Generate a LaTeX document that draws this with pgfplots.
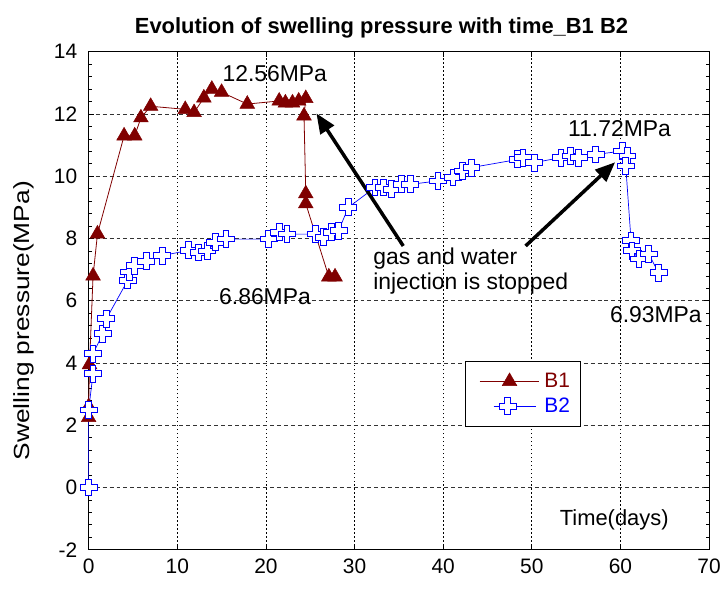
\documentclass[border=0pt]{standalone}
\usepackage{fontspec}
\setmainfont{Liberation Sans}
\usepackage{graphicx}
\usepackage{pgfplots}
\pgfplotsset{compat=1.18}
\usetikzlibrary{arrows.meta}

\definecolor{bone}{RGB}{128,0,0}
\definecolor{btwo}{RGB}{0,0,255}

\pgfplotsset{
  legA/.style={legend image code/.code={\path[draw=none,fill=none] (-14pt,-12.5pt) (65pt,12.5pt);
    \draw[mark repeat=2,mark phase=2,##1] plot coordinates {(0pt,0pt)(30pt,0pt)(60pt,0pt)};}},
  legB/.style={legend image code/.code={\path[draw=none,fill=none] (-14pt,-12.5pt) (65pt,12.5pt);
    \draw[mark repeat=2,mark phase=2,##1] plot coordinates {(14pt,0pt)(28pt,0pt)(57pt,0pt)};}},
}

\pgfdeclareplotmark{pluso}{%
  \pgfmathsetlengthmacro\ps{\pgfplotmarksize}%
  \pgfmathsetlengthmacro\pa{\pgfplotmarksize/3}%
  \pgfpathmoveto{\pgfqpoint{-\pa}{\ps}}%
  \pgfpathlineto{\pgfqpoint{\pa}{\ps}}%
  \pgfpathlineto{\pgfqpoint{\pa}{\pa}}%
  \pgfpathlineto{\pgfqpoint{\ps}{\pa}}%
  \pgfpathlineto{\pgfqpoint{\ps}{-\pa}}%
  \pgfpathlineto{\pgfqpoint{\pa}{-\pa}}%
  \pgfpathlineto{\pgfqpoint{\pa}{-\ps}}%
  \pgfpathlineto{\pgfqpoint{-\pa}{-\ps}}%
  \pgfpathlineto{\pgfqpoint{-\pa}{-\pa}}%
  \pgfpathlineto{\pgfqpoint{-\ps}{-\pa}}%
  \pgfpathlineto{\pgfqpoint{-\ps}{\pa}}%
  \pgfpathlineto{\pgfqpoint{-\pa}{\pa}}%
  \pgfpathclose
  \pgfusepathqfillstroke
}

\pgfplotstableread{
x y
0 2.25
0 2.6
0.1 3.95
0.5 6.8
1.0 8.15
4.0 11.3
5.2 11.3
5.9 11.88
7.0 12.25
10.9 12.15
11.9 12.05
13.0 12.52
13.9 12.8
15.0 12.7
17.9 12.32
21.5 12.42
22.2 12.36
23.0 12.36
23.7 12.42
24.5 12.5
24.3 11.94
24.5 9.44
24.5 9.12
27.1 6.77
27.8 6.77
}\datab

\pgfplotstableread{
x y
0 0
0 2.49
0.5 3.66
0.5 4.3
1.6 4.94
2.0 5.42
4.4 6.65
4.6 6.92
5.2 7.13
6.5 7.27
8.3 7.45
11.3 7.62
12.4 7.55
13.4 7.6
14.3 7.88
15.5 7.98
20.3 7.98
21.5 8.2
22.4 8.14
25.6 8.14
26.5 8.04
27.4 8.2
28.2 8.25
29.3 9.0
32.3 9.64
33.3 9.64
34.2 9.58
35.3 9.74
36.3 9.74
39.4 9.85
41.1 9.96
42.2 10.17
43.2 10.28
48.4 10.54
49.0 10.6
50.3 10.44
53.3 10.6
54.4 10.65
55.3 10.6
57.2 10.7
60.2 10.81
60.8 10.65
60.6 10.33
61.2 7.93
61.3 7.61
62.1 7.34
63.2 7.5
64.3 6.9
}\datac

\begin{document}
\begin{tikzpicture}
\begin{axis}[
  scale only axis, width=623pt, height=500pt,
  xmin=0, xmax=70, ymin=-2, ymax=14,
  xtick={0,10,...,70}, ytick={-2,0,...,14},
  grid=major,
  x grid style={black, line width=0.7pt, dash pattern=on 1.5pt off 2.5pt},
  y grid style={black!80, line width=0.7pt, dash pattern=on 4pt off 3pt},
  axis line style={black, line width=1pt},
  tick align=inside, major tick length=5pt,
  minor y tick num=4, minor tick length=3pt,
  tick style={black, line width=0.7pt},
  tick label style={font=\fontsize{21}{25}\selectfont},
  /pgf/number format/assume math mode=true,
  xticklabel style={yshift=-6pt},
  yticklabel style={xshift=-8pt},
  ylabel={\scalebox{1.2}[1]{Swelling pressure(MPa)}},
  ylabel style={font=\fontsize{22}{26}\selectfont, at={(axis description cs:-0.104,0.46)}, anchor=center},
  clip=false,
  legend style={at={(0.607,0.38)}, anchor=north west, draw=black, line width=1pt,
    font=\fontsize{21}{25}\selectfont, inner xsep=0pt, inner ysep=8pt, row sep=0pt, column sep=0pt,
    nodes={inner sep=0pt}, cells={anchor=west}},
]
\addplot[color=bone, line width=0.8pt, mark=triangle*, mark size=8.5pt,
  mark options={fill=bone, draw=bone, line width=0.5pt}, legA] table[x=x,y=y] {\datab};
\addlegendentry{\makebox[36pt][l]{\textcolor{bone}{B1}}}
\addplot[color=btwo, line width=0.7pt, mark=pluso, mark size=8.5pt,
  mark options={fill=white, draw=btwo, line width=1pt}, legB] table[x=x,y=y] {\datac};
\addlegendentry{\makebox[36pt][l]{\textcolor{btwo}{B2}}}

\node[font=\fontsize{23}{27}\selectfont] at (axis cs:21.0,13.3) {12.56MPa};
\node[font=\fontsize{23}{27}\selectfont] at (axis cs:59.9,11.54) {11.72MPa};
\node[font=\fontsize{23}{27}\selectfont] at (axis cs:19.9,6.13) {6.86MPa};
\node[font=\fontsize{23}{27}\selectfont] at (axis cs:64.0,5.55) {6.93MPa};
\node[font=\fontsize{23}{25}\selectfont, anchor=west, align=left, inner sep=0pt] at (axis cs:32.1,6.95) {gas and water\\injection is stopped};
\node[font=\fontsize{22}{26}\selectfont] at (axis cs:59.3,-1.04) {Time(days)};
\draw[line width=3.5pt, -{Triangle[length=20pt, width=16pt]}] (axis cs:35.5,7.76) -- (axis cs:25.7,12.02);
\draw[line width=3.5pt, -{Triangle[length=20pt, width=16pt]}] (axis cs:49.3,7.76) -- (axis cs:59.4,10.45);
\node[font=\bfseries\fontsize{22}{26}\selectfont, anchor=base] at (rel axis cs:0.472,1.036) {Evolution of swelling pressure with time\_B1 B2};
\end{axis}
\pgfresetboundingbox
\path[use as bounding box] (-89pt,-40pt) rectangle (636pt,552pt);
\end{tikzpicture}
\end{document}
